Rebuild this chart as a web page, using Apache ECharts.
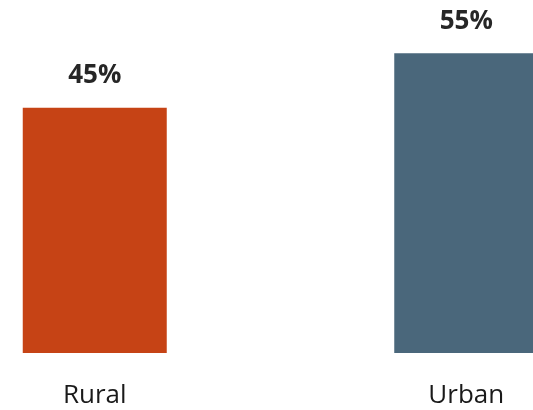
<!DOCTYPE html>
<html><head><meta charset="utf-8">
<script src="https://cdn.jsdelivr.net/npm/echarts@6/dist/echarts.min.js"></script>
<style>html,body{margin:0;padding:0;background:#fff}#c{width:533px;height:410px}</style>
</head><body><div id="c"></div>
<script>
const categories = ['Rural', 'Urban'];
const values = [45, 55];
const colors = ['#C64315', '#4A677B'];

const chart = echarts.init(document.getElementById('c'), null, {renderer: 'canvas'});
chart.setOption({
  animation: false,
  grid: {left: -91, width: 743, top: 26, bottom: 57, outerBoundsMode: 'none', containLabel: false},
  xAxis: {
    type: 'category', data: categories,
    axisLine: {show: false}, axisTick: {show: false},
    axisLabel: {color: '#1a1a1a', fontFamily: 'Open Sans', fontSize: 26, margin: 30}
  },
  yAxis: {type: 'value', min: 0, max: 60, show: false, splitLine: {show: false}},
  series: [{
    type: 'bar', barWidth: 144,
    data: values.map((v, i) => ({value: v, itemStyle: {color: colors[i]}})),
    label: {show: true, position: 'top', distance: 19, formatter: '{c}%',
      color: '#262626', fontFamily: 'Open Sans', fontWeight: 'bold', fontSize: 26}
  }]
});
</script></body></html>
